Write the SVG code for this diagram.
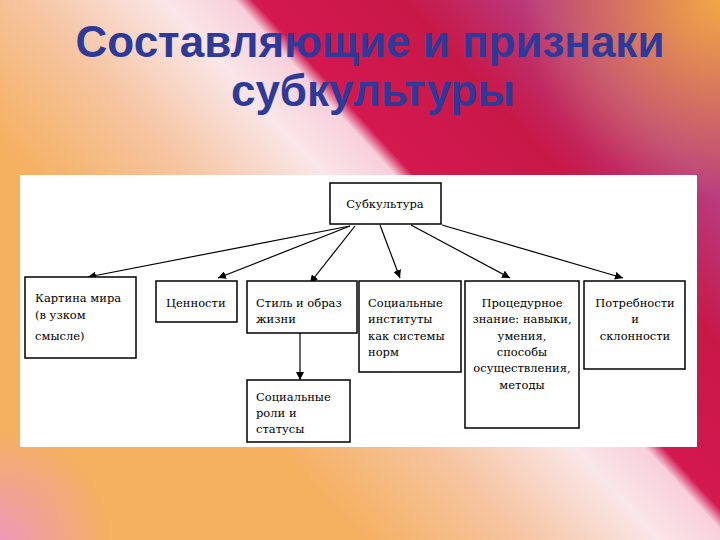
<svg xmlns="http://www.w3.org/2000/svg" width="720" height="540" viewBox="0 0 720 540">
<defs>
<linearGradient id="bg" gradientUnits="userSpaceOnUse" x1="-73.7" y1="67.6" x2="383" y2="-351.5">
<stop offset="0" stop-color="#f5b060"/>
<stop offset="0.19" stop-color="#f6c4a0"/>
<stop offset="0.355" stop-color="#fae6e8"/>
<stop offset="0.44" stop-color="#f8d0dc"/>
<stop offset="0.462" stop-color="#d41850"/>
<stop offset="0.64" stop-color="#c81848"/>
<stop offset="0.8" stop-color="#b83c80"/>
<stop offset="1" stop-color="#c04070"/>
</linearGradient>
<radialGradient id="tr" gradientUnits="userSpaceOnUse" cx="720" cy="0" r="200">
<stop offset="0" stop-color="#f0a848" stop-opacity="1"/>
<stop offset="1" stop-color="#f0a848" stop-opacity="0"/>
</radialGradient>
<radialGradient id="bl" gradientUnits="userSpaceOnUse" cx="0" cy="540" r="110">
<stop offset="0" stop-color="#f098b8" stop-opacity="1"/>
<stop offset="1" stop-color="#f098b8" stop-opacity="0"/>
</radialGradient>
<marker id="ah" viewBox="0 0 10 10" refX="10" refY="5" markerWidth="8" markerHeight="8" markerUnits="userSpaceOnUse" orient="auto">
<path d="M0,0 L10,5 L0,10 z" fill="#000"/>
</marker>
<style>
.title{font-family:"Liberation Sans","DejaVu Sans",sans-serif;font-weight:bold;font-size:44px;fill:#2d3a9a;text-anchor:middle;}
.box{fill:#fff;stroke:#000;stroke-width:1.5;}
.t{font-family:"DejaVu Serif","Liberation Serif",serif;font-size:11.5px;fill:#000;}
.c{text-anchor:middle;}
.conn line{stroke:#000;stroke-width:1.2;marker-end:url(#ah);}
</style>
</defs>
<rect width="720" height="540" fill="url(#bg)"/>
<rect width="720" height="540" fill="url(#tr)"/>
<rect width="720" height="540" fill="url(#bl)"/>
<text class="title" x="370" y="57">Составляющие и признаки</text>
<text class="title" x="373" y="106">субкультуры</text>
<rect x="20" y="175" width="677" height="272" fill="#fff"/>
<g class="conn">
<line x1="350" y1="226" x2="88" y2="277"/>
<line x1="350" y1="226" x2="218" y2="278"/>
<line x1="355" y1="226" x2="310" y2="283"/>
<line x1="380" y1="225" x2="400" y2="278"/>
<line x1="411" y1="225" x2="510" y2="278"/>
<line x1="442" y1="225" x2="623" y2="278"/>
<line x1="300" y1="333" x2="300" y2="380"/>
</g>
<g id="n-subculture"><rect class="box" x="330" y="183" width="111" height="41"/><text class="t c" x="385" y="208">Субкультура</text></g>
<g id="n-picture"><rect class="box" x="25" y="277" width="111" height="81"/><text class="t" x="35" y="302">Картина мира</text><text class="t" x="35" y="319">(в узком</text><text class="t" x="35" y="340">смысле)</text></g>
<g id="n-values"><rect class="box" x="156" y="281" width="81" height="41"/><text class="t" x="166" y="307">Ценности</text></g>
<g id="n-style"><rect class="box" x="247" y="281" width="110" height="52"/><text class="t" x="256" y="307">Стиль и образ</text><text class="t" x="256" y="323">жизни</text></g>
<g id="n-institutes"><rect class="box" x="359" y="281" width="102" height="91"/><text class="t" x="368" y="307">Социальные</text><text class="t" x="368" y="323">институты</text><text class="t" x="368" y="340">как системы</text><text class="t" x="368" y="356">норм</text></g>
<g id="n-procedural"><rect class="box" x="465" y="281" width="114" height="147" stroke-width="2"/><text class="t c" x="522" y="307">Процедурное</text><text class="t c" x="522" y="323">знание: навыки,</text><text class="t c" x="522" y="340">умения,</text><text class="t c" x="522" y="356">способы</text><text class="t c" x="522" y="372">осуществления,</text><text class="t c" x="522" y="389">методы</text></g>
<g id="n-needs"><rect class="box" x="584" y="281" width="101" height="88"/><text class="t c" x="635" y="307">Потребности</text><text class="t c" x="635" y="323">и</text><text class="t c" x="635" y="340">склонности</text></g>
<g id="n-roles"><rect class="box" x="247" y="380" width="103" height="62"/><text class="t" x="256" y="401">Социальные</text><text class="t" x="256" y="417">роли и</text><text class="t" x="256" y="433">статусы</text></g>
</svg>
